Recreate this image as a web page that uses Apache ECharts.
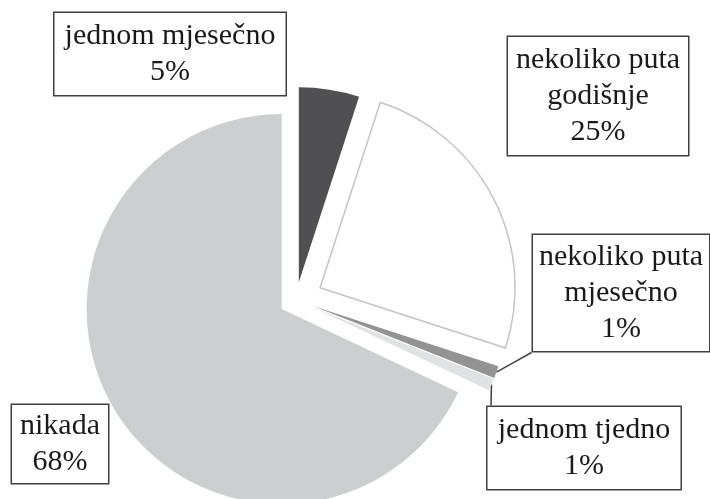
<!DOCTYPE html>
<html>
<head>
<meta charset="utf-8">
<script src="https://cdn.jsdelivr.net/npm/echarts@6/dist/echarts.min.js"></script>
<style>html,body{margin:0;padding:0;background:#fff}#c{width:710px;height:499px}</style>
</head>
<body>
<div id="c"></div>
<script>
const categories = ['jednom mjesečno', 'nekoliko puta godišnje', 'nekoliko puta mjesečno', 'jednom tjedno', 'nikada'];
const labelNames = ['jednom mjesečno', 'nekoliko puta\ngodišnje', 'nekoliko puta\nmjesečno', 'jednom tjedno', 'nikada'];
const values = [5, 25, 1, 1, 68];

const colors = ['#505052', '#ffffff', '#939393', '#e1e2e3', '#cdced0'];
const boxCenters = [[170, 54], [598, 96], [621, 293], [584, 448], [60, 444]];
const boxWidths = [231, 180, 176, 193, 96];
const boxPad = [[5, 0], [5, 0], [4, 0], [5, 0], [3, 0]];
const explode = [18, 27, 18, 18, 17];
const baseCenter = [296, 300];
const radius = 195;

const total = values.reduce((a, b) => a + b, 0);
let cum = 0;
const series = values.map((v, i) => {
  const mid = (cum + v / 2) / total * 2 * Math.PI;
  cum += v;
  const cx = baseCenter[0] + explode[i] * Math.sin(mid);
  const cy = baseCenter[1] - explode[i] * Math.cos(mid);
  return {
    type: 'pie',
    center: [cx, cy],
    radius: radius,
    startAngle: 90,
    clockwise: true,
    avoidLabelOverlap: false,
    silent: true,
    z: i === 1 ? 3 : 2,
    data: categories.map((c, j) => ({
      name: c,
      value: values[j],
      itemStyle: j === i ? {
        color: colors[j],
        borderColor: j === 1 ? '#c4c4c4' : colors[j],
        borderWidth: j === 1 ? 1.5 : 0
      } : {color: 'rgba(0,0,0,0)', borderWidth: 0},
      label: {show: j === i, width: boxWidths[j], padding: boxPad[j]},
      labelLine: {show: j === i && (j === 2 || j === 3)}
    })),
    label: {
      position: 'outside',
      formatter: p => labelNames[p.dataIndex] + '\n' + Math.round(p.percent) + '%',
      fontFamily: 'Liberation Serif',
      fontSize: 30,
      lineHeight: 36,
      color: '#1a1a1a',
      align: 'center',
      backgroundColor: '#ffffff',
      borderColor: '#404040',
      borderWidth: 1.5
    },
    labelLine: {
      length: 10,
      length2: 10,
      smooth: false,
      lineStyle: {color: '#404040', width: 1.5}
    },
    labelLayout: function (params) {
      const k = params.dataIndex;
      const c = boxCenters[k];
      const res = {x: c[0], y: c[1], align: 'center', verticalAlign: 'middle'};
      const r = params.labelRect;
      if (params.labelLinePoints && (k === 2 || k === 3)) {
        const a = params.labelLinePoints[0];
        const left = c[0] - r.width / 2;
        const top = c[1] - r.height / 2;
        const bottom = c[1] + r.height / 2;
        const end = k === 2 ? [left, bottom] : [left + 5, top];
        res.labelLinePoints = [a, [(a[0] + end[0]) / 2, (a[1] + end[1]) / 2], end];
      }
      return res;
    },
    emphasis: {disabled: true}
  };
});

const chart = echarts.init(document.getElementById('c'), null, {renderer: 'canvas'});
chart.setOption({animation: false, series: series});
</script>
</body>
</html>
